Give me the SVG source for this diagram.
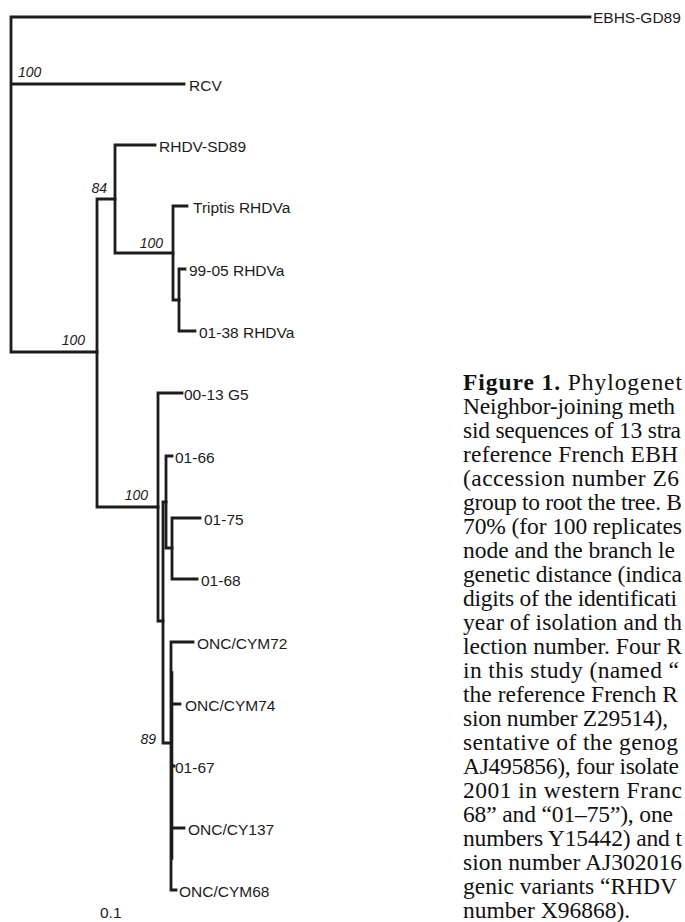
<svg xmlns="http://www.w3.org/2000/svg" width="685" height="922" viewBox="0 0 685 922">
<style>
.br{fill:none;stroke:#1c1c1c;stroke-width:2.8;stroke-linecap:square;stroke-linejoin:miter}
.lb{font-family:"Liberation Sans",Arial,sans-serif;font-size:15.5px;fill:#1c1c1c}
.bs{font-family:"Liberation Sans",Arial,sans-serif;font-size:14px;font-style:italic;fill:#1c1c1c}
.cap{font-family:"Liberation Serif","Times New Roman",serif;font-size:23.5px;fill:#111}
.capb{font-weight:bold}
</style>
<rect width="685" height="922" fill="#fff"/>
<g id="connectors">
<path class="br" d="M11,17 V352 M11,17 H590 M11,84 H184 M11,352 H97"/>
<path class="br" d="M97,199 V507 M97,199 H115 M97,507 H158"/>
<path class="br" d="M115,145 V253 M115,145 H155 M115,253 H173"/>
<path class="br" d="M173,206 V300 M173,206 H187 M173,300 H179"/>
<path class="br" d="M179,269 V331 M179,269 H185 M179,331 H195"/>
<path class="br" d="M158,393 V621 M158,393 H182 M158,621 H163"/>
<path class="br" d="M163,502 V743 M163,502 H166 M163,743 H171"/>
<path class="br" d="M166,456 V548 M166,456 H172 M166,548 H172"/>
<path class="br" d="M172,518 V579 M172,518 H200 M172,579 H197"/>
<path class="br" d="M171,642 V890 M171,642 H193 M171,704 H180 M171,766 H174 M171,828 H184 M171,890 H176"/>
<path class="br" d="M172.5,672 V859" style="stroke-width:1.6"/>
</g>
<g id="n-ebhs"><text class="lb" x="593" y="23">EBHS-GD89</text></g>
<g id="n-rcv"><text class="lb" x="189" y="91">RCV</text></g>
<g id="n-rhdvsd89"><text class="lb" x="159" y="152">RHDV-SD89</text></g>
<g id="n-triptis"><text class="lb" x="193" y="213">Triptis RHDVa</text></g>
<g id="n-9905"><text class="lb" x="189" y="276">99-05 RHDVa</text></g>
<g id="n-0138"><text class="lb" x="199" y="338">01-38 RHDVa</text></g>
<g id="n-0013"><text class="lb" x="184" y="400">00-13 G5</text></g>
<g id="n-0166"><text class="lb" x="175" y="463">01-66</text></g>
<g id="n-0175"><text class="lb" x="204" y="525">01-75</text></g>
<g id="n-0168"><text class="lb" x="201" y="586">01-68</text></g>
<g id="n-cym72"><text class="lb" x="197" y="649">ONC/CYM72</text></g>
<g id="n-cym74"><text class="lb" x="185" y="711">ONC/CYM74</text></g>
<g id="n-0167"><text class="lb" x="175" y="773">01-67</text></g>
<g id="n-cy137"><text class="lb" x="188" y="835">ONC/CY137</text></g>
<g id="n-cym68"><text class="lb" x="179" y="897">ONC/CYM68</text></g>
<g id="bootstrap">
<text class="bs" x="18" y="77">100</text>
<text class="bs" x="107" y="193" text-anchor="end">84</text>
<text class="bs" x="163" y="248" text-anchor="end">100</text>
<text class="bs" x="85" y="345" text-anchor="end">100</text>
<text class="bs" x="148" y="500" text-anchor="end">100</text>
<text class="bs" x="156" y="744" text-anchor="end">89</text>
</g>
<g id="scale"><text class="lb" x="100" y="918">0.1</text></g>
<g id="caption" class="cap">
<text x="463" y="390" textLength="219"><tspan class="capb">Figure 1.</tspan> Phylogenet</text>
<text x="463" y="414" textLength="212">Neighbor-joining meth</text>
<text x="463" y="438" textLength="218">sid sequences of 13 stra</text>
<text x="463" y="462" textLength="215">reference French EBH</text>
<text x="463" y="486" textLength="216">(accession number Z6</text>
<text x="463" y="510" textLength="219">group to root the tree. B</text>
<text x="463" y="534" textLength="219">70% (for 100 replicates</text>
<text x="463" y="558" textLength="212">node and the branch le</text>
<text x="463" y="582" textLength="219">genetic distance (indica</text>
<text x="463" y="606" textLength="214">digits of the identificati</text>
<text x="463" y="630" textLength="219">year of isolation and th</text>
<text x="463" y="654" textLength="219">lection number. Four R</text>
<text x="463" y="678" textLength="216">in this study (named “</text>
<text x="463" y="702" textLength="215">the reference French R</text>
<text x="463" y="726" textLength="205">sion number Z29514),</text>
<text x="463" y="750" textLength="215">sentative of the genog</text>
<text x="463" y="774" textLength="216">AJ495856), four isolate</text>
<text x="463" y="798" textLength="219">2001 in western Franc</text>
<text x="463" y="822" textLength="210">68” and “01–75”), one</text>
<text x="463" y="846" textLength="219">numbers Y15442) and t</text>
<text x="463" y="870" textLength="219">sion number AJ302016</text>
<text x="463" y="894" textLength="214">genic variants “RHDV</text>
<text x="463" y="918">number X96868).</text>
</g>
</svg>
